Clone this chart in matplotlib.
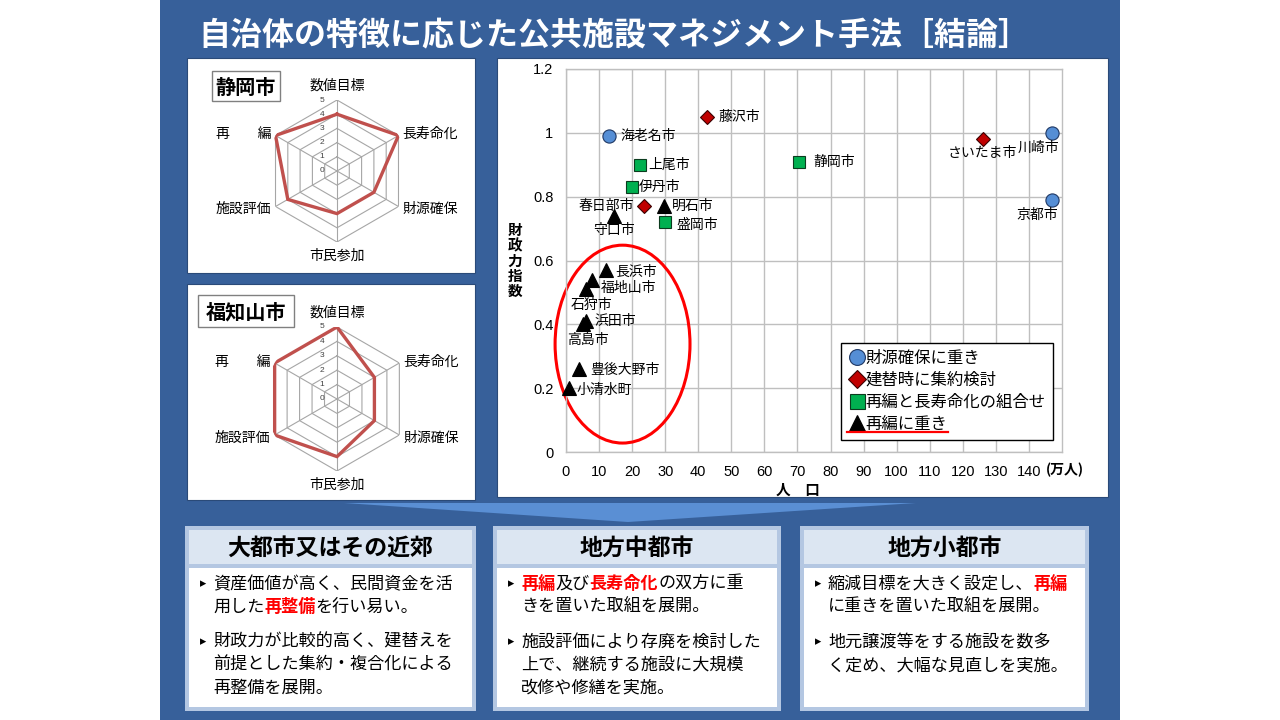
import numpy as np
import matplotlib
matplotlib.use("Agg")
import matplotlib.pyplot as plt
from matplotlib.patches import Rectangle, Polygon, Ellipse
from matplotlib.lines import Line2D

JP = ['Noto Sans CJK JP', 'DejaVu Sans']
NUM = ['Liberation Sans', 'Noto Sans CJK JP', 'DejaVu Sans']
plt.rcParams['font.family'] = JP

# ---------------- data ----------------
title = "自治体の特徴に応じた公共施設マネジメント手法［結論］"

radar_axes = ["数値目標", "長寿命化", "財源確保", "市民参加", "施設評価", "再　　編"]
shizuoka_vals = [4, 5, 3, 3, 4, 5]
fukuchiyama_vals = [5, 3, 3, 4, 5, 5]

cat_names = ["財源確保に重き", "建替時に集約検討", "再編と長寿命化の組合せ", "再編に重き"]
cities = ["海老名市", "川崎市", "京都市",
          "藤沢市", "春日部市", "さいたま市",
          "上尾市", "伊丹市", "盛岡市", "静岡市",
          "明石市", "守口市", "長浜市", "福地山市", "石狩市", "浜田市", "高島市",
          "豊後大野市", "小清水町"]
population = [13, 147, 147,
              42.5, 23.5, 126,
              22.5, 20, 30, 70.5,
              29.5, 14.5, 12, 8, 6, 6, 5, 4, 0.8]
fiscal_index = [0.99, 1.00, 0.79,
                1.05, 0.77, 0.98,
                0.90, 0.83, 0.72, 0.91,
                0.77, 0.74, 0.57, 0.54, 0.51, 0.41, 0.40, 0.26, 0.20]
category = [0, 0, 0,
            1, 1, 1,
            2, 2, 2, 2,
            3, 3, 3, 3, 3, 3, 3, 3, 3]
x_ticks = list(range(0, 141, 10))
y_ticks = [0, 0.2, 0.4, 0.6, 0.8, 1.0, 1.2]
y_tick_labels = ["0", "0.2", "0.4", "0.6", "0.8", "1", "1.2"]

box_heads = ["大都市又はその近郊", "地方中都市", "地方小都市"]
box_paras = [
    [[[("資産価値が高く、民間資金を活", 0)], [("用した", 0), ("再整備", 1), ("を行い易い。", 0)]],
     [[("財政力が比較的高く、建替えを", 0)], [("前提とした集約・複合化による", 0)], [("再整備を展開。", 0)]]],
    [[[("再編", 1), ("及び", 0), ("長寿命化", 1), ("の双方に重", 0)], [("きを置いた取組を展開。", 0)]],
     [[("施設評価により存廃を検討した", 0)], [("上で、継続する施設に大規模", 0)], [("改修や修繕を実施。", 0)]]],
    [[[("縮減目標を大きく設定し、", 0), ("再編", 1)], [("に重きを置いた取組を展開。", 0)]],
     [[("地元譲渡等をする施設を数多", 0)], [("く定め、大幅な見直しを実施。", 0)]]],
]

# ---------------- style ----------------
W, H = 1280, 720
PANEL = "#37609A"
fig = plt.figure(figsize=(12.8, 7.2), dpi=100)
fig.patch.set_facecolor("white")

def frac(x0, y0, x1, y1):
    return [x0 / W, 1 - y1 / H, (x1 - x0) / W, (y1 - y0) / H]

bg = fig.add_axes([0, 0, 1, 1])
bg.set_xlim(0, W)
bg.set_ylim(H, 0)
bg.axis("off")
bg.set_zorder(-1)

bg.add_patch(Rectangle((160, 0), 960, 720, facecolor=PANEL, edgecolor="none"))
bg.text(198, 35, title, color="white", fontsize=23, weight="bold", ha="left", va="center")

# white boxes
for (x0, y0, x1, y1) in [(187, 58, 475, 273), (187, 284, 475, 500), (497, 58, 1108, 497)]:
    bg.add_patch(Rectangle((x0, y0), x1 - x0, y1 - y0, facecolor="white", edgecolor="#2A4A78", lw=0.8))

# chevron band
bg.add_patch(Polygon([(344, 503), (916, 503), (628, 522)], closed=True,
                     facecolor="#5A8FD4", edgecolor="none"))

# bottom boxes
box_x = [(185, 476), (493, 781), (800, 1089)]
bullet_dx = 18
for i, (x0, x1) in enumerate(box_x):
    bg.add_patch(Rectangle((x0, 526), x1 - x0, 185, facecolor="#B4C7E2", edgecolor="none"))
    bg.add_patch(Rectangle((x0 + 4, 530), x1 - x0 - 8, 34, facecolor="#DCE6F2", edgecolor="none"))
    bg.add_patch(Rectangle((x0 + 4, 568), x1 - x0 - 8, 139, facecolor="white", edgecolor="none"))
    bg.text((x0 + x1) / 2, 548, box_heads[i], fontsize=16.5, weight="bold", ha="center", va="center",
            color="black")
    ys = [584, 642]
    for p, para in enumerate(box_paras[i]):
        y = ys[p]
        bg.text(x0 + bullet_dx, y, "▸", fontsize=9, ha="center", va="center", color="black",
                family=['DejaVu Sans'])
        for line in para:
            prev = None
            for seg, red in line:
                kw = dict(fontsize=12.3, color="#FF0000" if red else "black",
                          weight="bold" if red else "normal", va="center", ha="left")
                if prev is None:
                    prev = bg.text(x0 + bullet_dx + 10, y, seg, **kw)
                else:
                    prev = bg.annotate(seg, xy=(1, 0.5), xycoords=prev, **kw)
            y += 23

# ---------------- radar charts ----------------
theta = np.linspace(0, 2 * np.pi, len(radar_axes), endpoint=False)
theta_c = np.append(theta, theta[0])

def radar(cx, cy, R, vals, name, name_box):
    ax = fig.add_axes(frac(cx - R, cy - R, cx + R, cy + R), projection="polar")
    ax.set_theta_zero_location("N")
    ax.set_theta_direction(-1)
    ax.set_ylim(0, 5)
    ax.set_axis_off()
    for r in range(1, 6):
        ax.plot(theta_c, [r] * len(theta_c), color="#A6A6A6", lw=0.8, zorder=1)
    for t in theta:
        ax.plot([t, t], [0, 5], color="#A6A6A6", lw=0.8, zorder=1)
    vc = list(vals) + [vals[0]]
    ax.plot(theta_c, vc, color="#C0504D", lw=2.4, zorder=3, solid_joinstyle="miter")
    for r in range(0, 6):
        ax.annotate(str(r), xy=(0, r), xytext=(-11, 0), textcoords="offset points",
                    ha="center", va="center", fontsize=6, color="#404040", family=NUM)
    place = [((0, 5), (0, 10.5), "center", "center"),
             ((theta[1], 5), (3, 1), "left", "center"),
             ((theta[2], 5), (3, -2), "left", "center"),
             ((np.pi, 5), (0, -10), "center", "center"),
             ((theta[4], 5), (-3, -2), "right", "center"),
             ((theta[5], 5), (-3, 1), "right", "center")]
    for lab, (xy, off, ha, va) in zip(radar_axes, place):
        ax.annotate(lab, xy=xy, xytext=off, textcoords="offset points", ha=ha, va=va,
                    fontsize=10, color="black", annotation_clip=False)
    bx0, by0, bx1, by1 = name_box
    bg.add_patch(Rectangle((bx0, by0), bx1 - bx0, by1 - by0, facecolor="white", edgecolor="#808080", lw=1))
    bg.text((bx0 + bx1) / 2, (by0 + by1) / 2 + 1, name, fontsize=14.5, weight="bold", ha="center", va="center")

radar(337, 171, 71, shizuoka_vals, "静岡市", (212, 71, 280, 101))
radar(337, 399, 72, fukuchiyama_vals, "福知山市", (198, 295, 294, 327))

# ---------------- scatter ----------------
ax = fig.add_axes(frac(566, 69, 1062, 452))
ax.set_xlim(0, 150)
ax.set_ylim(0, 1.2)
ax.set_xticks(x_ticks)
ax.set_yticks(y_ticks)
ax.set_yticklabels(y_tick_labels)
ax.grid(True, color="#BFBFBF", lw=1)
ax.set_axisbelow(True)
for s in ax.spines.values():
    s.set_color("#BFBFBF")
    s.set_linewidth(1)
ax.tick_params(length=0, labelsize=10.5, colors="black")
ax.tick_params(axis="x", pad=9)
ax.tick_params(axis="y", pad=9)
for lab in ax.get_xticklabels() + ax.get_yticklabels():
    lab.set_family(NUM)

marker_style = [dict(marker="o", mfc="#558ED5", mec="#1F3864", ms=9.5),
                dict(marker="D", mfc="#C00000", mec="#3A0000", ms=7.5),
                dict(marker="s", mfc="#00B050", mec="#0B3B1E", ms=9),
                dict(marker="^", mfc="black", mec="black", ms=9.5)]

label_place = {
    "海老名市": (8, 0, "left", "center"), "藤沢市": (9, 0, "left", "center"),
    "上尾市": (6, 0, "left", "center"), "伊丹市": (5, 0, "left", "center"),
    "春日部市": (-7, 0, "right", "center"), "明石市": (6, 0, "left", "center"),
    "守口市": (0, -10, "center", "center"), "盛岡市": (8, -2, "left", "center"),
    "静岡市": (10, 0, "left", "center"), "長浜市": (7, -1, "left", "center"),
    "福地山市": (6, -6, "left", "center"), "石狩市": (4, -11, "center", "center"),
    "浜田市": (6, 0, "left", "center"), "高島市": (4, -11, "center", "center"),
    "豊後大野市": (8, -1, "left", "center"), "小清水町": (6, -1, "left", "center"),
    "さいたま市": (0, -10, "center", "center"), "川崎市": (5, -11, "right", "center"),
    "京都市": (4, -11, "right", "center"),
}

ax.add_patch(Ellipse((17.1, 0.338), 40.8, 0.62, fill=False, edgecolor="#FF0000", lw=2.2,
                     zorder=2, clip_on=False))

for c in range(4):
    xs = [p for p, k in zip(population, category) if k == c]
    ys = [f for f, k in zip(fiscal_index, category) if k == c]
    ax.plot(xs, ys, linestyle="none", zorder=4, clip_on=False, mew=0.8, **marker_style[c])

for name, px, fy in zip(cities, population, fiscal_index):
    dx, dy, ha, va = label_place[name]
    ax.annotate(name, xy=(px, fy), xytext=(dx, dy), textcoords="offset points",
                ha=ha, va=va, fontsize=10, color="black", zorder=5, annotation_clip=False)

handles = [Line2D([], [], linestyle="none", mew=0.8, **marker_style[c]) for c in range(4)]
leg = ax.legend(handles, cat_names, loc="lower right", bbox_to_anchor=(0.982, 0.031),
                frameon=True, fancybox=False, edgecolor="black", framealpha=1,
                fontsize=11.8, handletextpad=0.05, handlelength=1.0, labelspacing=0.3,
                borderpad=0.45, borderaxespad=0, markerscale=1.2)
leg.get_frame().set_linewidth(1)
leg.set_zorder(6)

ax.annotate("(万人)", xy=(1, 0), xycoords="axes fraction", xytext=(2, -13),
            textcoords="offset points", ha="center", va="center", fontsize=10, weight="bold")
ax.annotate("人　口", xy=(70, 0), xycoords="data", xytext=(0, -27),
            textcoords="offset points", ha="center", va="center", fontsize=10.5, weight="bold")
ax.annotate("財\n政\n力\n指\n数", xy=(0, 0.6), xycoords="data", xytext=(-37, 0),
            textcoords="offset points", ha="center", va="center", fontsize=10.5, weight="bold",
            linespacing=0.95)

# red underline under the last legend entry (measured from the rendered legend)
fig.canvas.draw()
rend = fig.canvas.get_renderer()
tb = leg.get_texts()[3].get_window_extent(rend)
inv = ax.transAxes.inverted()
(ux0, uy), (ux1, _) = inv.transform([(tb.x0 - 19, tb.y0 + 1), (tb.x1 + 1, tb.y0 + 1)])
ax.plot([ux0, ux1], [uy, uy], transform=ax.transAxes, color="#FF0000", lw=1.6,
        zorder=7, clip_on=False)

fig.savefig("out.png", dpi=100, facecolor="white")
